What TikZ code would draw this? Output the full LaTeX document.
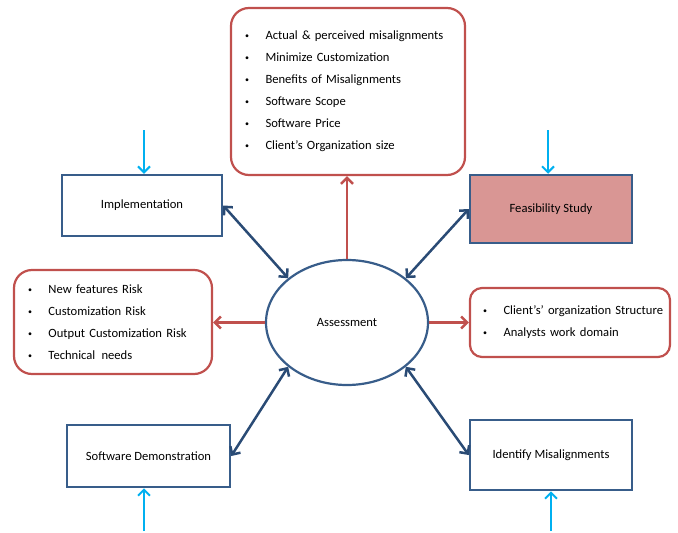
\documentclass[tikz,border=0pt]{standalone}
\usepackage{fontspec}
\setmainfont{Carlito}
\usepackage{tikz}
\usetikzlibrary{positioning, shapes.geometric, arrows.meta}
\definecolor{boxblue}{HTML}{385D8A}
\definecolor{linkblue}{HTML}{2A4B75}
\definecolor{riskred}{HTML}{C0504D}
\definecolor{feedblue}{HTML}{00B0F0}
\definecolor{feasfill}{HTML}{D99694}
\newcommand{\bitem}[1]{\makebox[20.5pt][l]{\raisebox{1pt}{\fontsize{8}{8}\selectfont\textbullet}}\mbox{#1}}
\tikzstyle{task} = [
    rectangle,
    draw = boxblue,
    line width = 2.5pt,
    text centered,
    minimum width = 160pt,
    minimum height = 62pt
]
\tikzstyle{factors} = [
    rectangle,
    draw = riskred,
    line width = 2.2pt,
    rounded corners = 18pt,
    align = left,
    inner xsep = 14pt,
    font = \fontsize{12.6}{22}\selectfont
]
\tikzstyle{core} = [
    ellipse,
    draw = boxblue,
    line width = 2.2pt,
    minimum width = 162pt,
    minimum height = 125pt
]
\tikzstyle{link} = [draw = linkblue, line width = 2.5pt, {Straight Barb[length=6pt]}-{Straight Barb[length=6pt]}]
\tikzstyle{output} = [draw = riskred, line width = 2.5pt, -{Straight Barb[length=6pt]}]
\tikzstyle{input} = [draw = feedblue, line width = 2pt, -{Straight Barb[length=6pt]}]

\begin{document}
\begin{tikzpicture}[x=1pt, y=-1pt, font=\fontsize{12.6}{14}\selectfont]
                \useasboundingbox (0,0) rectangle (678,533);

                % assessment in the middle
                \node [core] (assess) at (347,322.5) {Assessment};

                % factors
                \node [factors, text width = 206pt, minimum height = 167pt] (topFactors) at (348,91.5) {%
                    \bitem{Actual \& perceived misalignments}\\
                    \bitem{Minimize Customization}\\
                    \bitem{Benefits of Misalignments}\\
                    \bitem{Software Scope}\\
                    \bitem{Software Price}\\
                    \bitem{Client’s Organization size}};
                \node [factors, text width = 170pt, minimum height = 104pt] (leftFactors) at (113,322) {%
                    \bitem{New features Risk}\\
                    \bitem{Customization Risk}\\
                    \bitem{Output Customization Risk}\\
                    \bitem{Technical\hspace{2pt} needs}};
                \node [factors, text width = 174pt, inner xsep = 13pt, minimum height = 69pt, rounded corners = 12pt] (rightFactors) at (570,322.5) {%
                    \bitem{Client's’ organization Structure}\\
                    \bitem{Analysts work domain}};

                % tasks
                \node [task, minimum height = 61pt] (impl) at (142,205.5) {Implementation};
                \node [task, fill = feasfill, minimum width = 162pt, minimum height = 68pt] (feas) at (551,209) {Feasibility Study};
                \node [task, minimum width = 163pt] (demo) at (148.5,456) {Software Demonstration};
                \node [task, minimum width = 162pt, minimum height = 70pt] (ident) at (551,455) {Identify Misalignments};

                % inputs
                \coordinate (implIn) at (144,130);
                \coordinate (feasIn) at (548,130);
                \coordinate (demoIn) at (144,531);
                \coordinate (identIn) at (551,531);
                \draw [input] (implIn) -- (implIn |- impl.north);
                \draw [input] (feasIn) -- (feasIn |- feas.north);
                \draw [input] (demoIn) -- (demoIn |- demo.south);
                \draw [input] (identIn) -- (identIn |- ident.south);

                % outputs
                \draw [output] (assess.north) -- (assess.north |- topFactors.south);
                \draw [output] (assess.west) -- (assess.west -| leftFactors.east);
                \draw [output] (assess.east) -- (assess.east -| rightFactors.west);

                % links
                \draw [link] (impl.east) -- (assess.143);
                \draw [link] (feas.west) -- (assess.37);
                \draw [link] (demo.east) -- (assess.217);
                \draw [link] (ident.west) -- (assess.323);

            \end{tikzpicture}
\end{document}
